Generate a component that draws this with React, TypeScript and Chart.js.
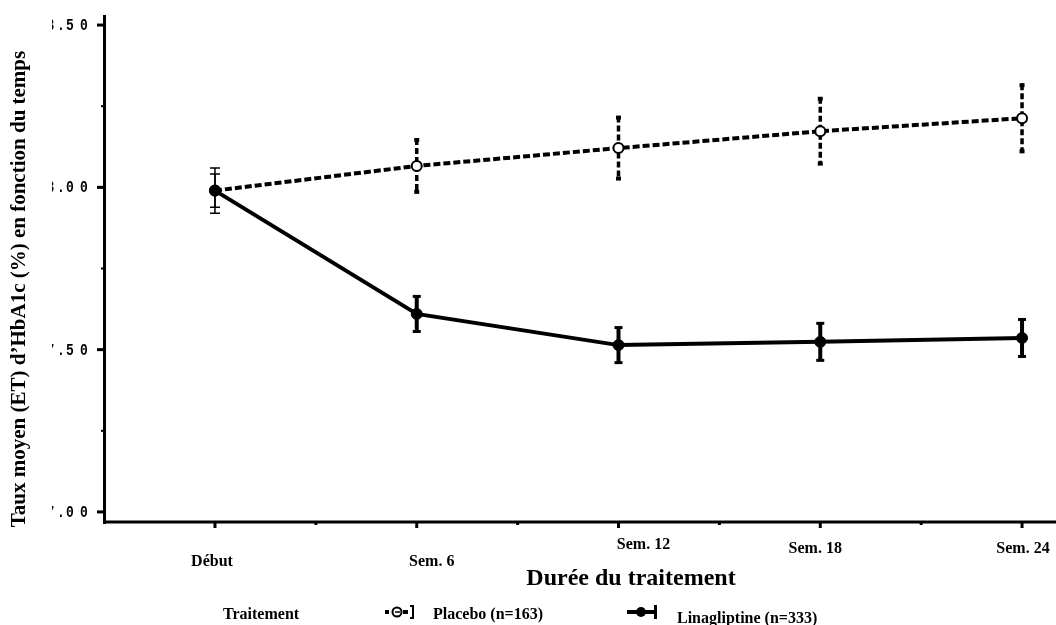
import React, { useEffect, useRef } from "react";
import { Chart, registerables } from "chart.js";

Chart.register(...registerables);

// ---- Data ----
const categories = ["Début", "Sem. 6", "Sem. 12", "Sem. 18", "Sem. 24"];
const weeks = [0, 6, 12, 18, 24];
const placeboMean = [7.99, 8.066, 8.121, 8.173, 8.213];
const placeboSE = [0.07, 0.083, 0.097, 0.103, 0.105];
const linaMean = [7.99, 7.61, 7.514, 7.524, 7.536];
const linaSE = [0.051, 0.054, 0.054, 0.057, 0.057];
const yTickValues = [7.0, 7.5, 8.0, 8.5];
const yTickLabels = ["7.00", "7.50", "8.00", "8.50"];
const yMinorTicks = [7.25, 7.75, 8.25];
const xMinorTicks = [3, 9, 15, 21];
const placeboLabel = "Placebo (n=163)";
const linaLabel = "Linagliptine (n=333)";
const legendTitle = "Traitement";
const xTitle = "Durée du traitement";
const yTitle = "Taux moyen (ET) d’HbA1c (%) en fonction du temps";

// ---- Layout (style only) ----
const X_LABEL_DX = [-3, 15, 25, -5, 1];
const X_LABEL_BASE = [566, 566, 549, 553, 553];
const SERIF = "'Liberation Serif', 'Times New Roman', serif";

const overlay = {
  id: "overlay",
  beforeDatasetsDraw(chart: any) {
    const ctx = chart.ctx as CanvasRenderingContext2D;
    const xs = chart.scales.x;
    const ys = chart.scales.y;
    ctx.save();
    ctx.fillStyle = "#000";
    ctx.strokeStyle = "#000";
    for (let i = 0; i < weeks.length; i++) {
      const px = xs.getPixelForValue(weeks[i]);
      // placebo
      {
        const top = ys.getPixelForValue(placeboMean[i] + placeboSE[i]);
        const bot = ys.getPixelForValue(placeboMean[i] - placeboSE[i]);
        if (i === 0) {
          ctx.setLineDash([]);
          ctx.lineWidth = 1.5;
          ctx.beginPath();
          ctx.moveTo(px, top);
          ctx.lineTo(px, bot);
          ctx.moveTo(px - 5, top);
          ctx.lineTo(px + 5, top);
          ctx.moveTo(px - 5, bot);
          ctx.lineTo(px + 5, bot);
          ctx.stroke();
        } else {
          ctx.setLineDash([6, 3]);
          ctx.lineWidth = 3.5;
          ctx.beginPath();
          ctx.moveTo(px, top);
          ctx.lineTo(px, bot);
          ctx.stroke();
          ctx.setLineDash([]);
          ctx.fillRect(px - 2.5, top - 1, 5, 4);
          ctx.fillRect(px - 2.5, bot - 3, 5, 4);
        }
      }
      // linagliptine
      {
        const top = ys.getPixelForValue(linaMean[i] + linaSE[i]);
        const bot = ys.getPixelForValue(linaMean[i] - linaSE[i]);
        ctx.setLineDash([]);
        if (i === 0) {
          ctx.lineWidth = 1.5;
          ctx.beginPath();
          ctx.moveTo(px, top);
          ctx.lineTo(px, bot);
          ctx.moveTo(px - 5, top);
          ctx.lineTo(px + 5, top);
          ctx.moveTo(px - 5, bot);
          ctx.lineTo(px + 5, bot);
          ctx.stroke();
        } else {
          ctx.lineWidth = 4;
          ctx.beginPath();
          ctx.moveTo(px, top);
          ctx.lineTo(px, bot);
          ctx.stroke();
          ctx.fillRect(px - 4, top - 1.5, 8, 3);
          ctx.fillRect(px - 4, bot - 1.5, 8, 3);
        }
      }
    }
    ctx.restore();
  },
  afterDraw(chart: any) {
    const ctx = chart.ctx as CanvasRenderingContext2D;
    const xs = chart.scales.x;
    const ys = chart.scales.y;
    const area = chart.chartArea;
    ctx.save();
    ctx.fillStyle = "#000";
    ctx.strokeStyle = "#000";
    ctx.setLineDash([]);
    // axes
    ctx.fillRect(area.left - 1, area.top, 3, area.bottom - area.top + 2);
    ctx.fillRect(area.left - 1, area.bottom - 1.5, 1056 - area.left + 1, 3);
    // y ticks
    yTickValues.forEach((v) => {
      const py = ys.getPixelForValue(v);
      ctx.fillRect(area.left - 7, py - 1.5, 6, 3);
    });
    yMinorTicks.forEach((v) => {
      const py = ys.getPixelForValue(v);
      ctx.fillRect(area.left - 3, py - 1, 2, 2);
    });
    // x ticks
    weeks.forEach((w) => {
      const px = xs.getPixelForValue(w);
      ctx.fillRect(px - 1.5, area.bottom + 1, 3, 5);
    });
    xMinorTicks.forEach((w) => {
      const px = xs.getPixelForValue(w);
      ctx.fillRect(px - 1.5, area.bottom + 1, 3, 2);
    });
    // y tick labels (clipped at left like the reference)
    ctx.save();
    ctx.beginPath();
    ctx.rect(52, 0, 60, 625);
    ctx.clip();
    ctx.font = "bold 13px 'Liberation Mono', 'DejaVu Sans Mono', monospace";
    ctx.textAlign = "center";
    ctx.textBaseline = "middle";
    const charX = [50.5, 61, 70, 84];
    yTickValues.forEach((v, k) => {
      const py = ys.getPixelForValue(v);
      const label = yTickLabels[k];
      for (let c = 0; c < label.length; c++) {
        ctx.save();
        ctx.translate(charX[c], py + 1);
        ctx.scale(1, 1.25);
        ctx.fillText(label[c], 0, 0);
        ctx.restore();
      }
    });
    ctx.restore();
    // x tick labels
    ctx.font = `bold 16px ${SERIF}`;
    ctx.textAlign = "center";
    ctx.textBaseline = "alphabetic";
    categories.forEach((c, i) => {
      const px = xs.getPixelForValue(weeks[i]);
      ctx.fillText(c, px + X_LABEL_DX[i], X_LABEL_BASE[i]);
    });
    // x title
    ctx.font = `bold 24px ${SERIF}`;
    ctx.fillText(xTitle, 631, 585);
    // y title
    ctx.save();
    ctx.translate(20, 289);
    ctx.rotate(-Math.PI / 2);
    ctx.font = `bold 21px ${SERIF}`;
    ctx.textAlign = "center";
    ctx.textBaseline = "middle";
    ctx.fillText(yTitle, 0, 0);
    ctx.restore();
    // legend
    ctx.font = `bold 16px ${SERIF}`;
    ctx.textAlign = "left";
    ctx.textBaseline = "alphabetic";
    ctx.fillText(legendTitle, 223, 619);
    ctx.fillText(placeboLabel, 433, 619);
    ctx.fillText(linaLabel, 677, 623);
    // placebo marker
    const ly = 612;
    ctx.fillRect(385, ly - 2, 4, 4);
    ctx.fillRect(403, ly - 2, 5, 4);
    ctx.beginPath();
    ctx.arc(397, ly, 4.5, 0, Math.PI * 2);
    ctx.fillStyle = "#fff";
    ctx.fill();
    ctx.lineWidth = 2;
    ctx.stroke();
    ctx.fillStyle = "#000";
    ctx.fillRect(395, ly - 0.75, 5, 1.5);
    ctx.fillRect(412, ly - 7, 2, 14);
    ctx.fillRect(410, ly - 7, 3, 2);
    ctx.fillRect(410, ly + 5, 3, 2);
    // lina marker
    ctx.fillRect(627, ly - 2, 28, 4);
    ctx.beginPath();
    ctx.arc(641, ly, 5, 0, Math.PI * 2);
    ctx.fill();
    ctx.fillRect(654, ly - 7, 3, 14);
    ctx.restore();
  },
};

export default function App() {
  const ref = useRef<HTMLCanvasElement | null>(null);
  useEffect(() => {
    if (!ref.current) return;
    const chart = new Chart(ref.current, {
      type: "line",
      data: {
        datasets: [
          {
            label: linaLabel,
            data: weeks.map((w, i) => ({ x: w, y: linaMean[i] })),
            borderColor: "#000",
            borderWidth: 4,
            pointRadius: 5.5,
            pointBackgroundColor: "#000",
            pointBorderColor: "#000",
            pointBorderWidth: 1,
            tension: 0,
            order: 0,
          },
          {
            label: placeboLabel,
            data: weeks.map((w, i) => ({ x: w, y: placeboMean[i] })),
            borderColor: "#000",
            borderWidth: 4,
            borderDash: [7, 3],
            pointRadius: 5,
            pointBackgroundColor: "#fff",
            pointBorderColor: "#000",
            pointBorderWidth: 2,
            tension: 0,
            order: 1,
          },
        ],
      },
      options: {
        responsive: false,
        animation: false,
        devicePixelRatio: 1,
        layout: { autoPadding: false, padding: { left: 104, right: 0, top: 15, bottom: 103 } },
        plugins: { legend: { display: false }, tooltip: { enabled: false } },
        scales: {
          x: { type: "linear", min: -3.3, max: 25.01, display: false },
          y: { type: "linear", min: 6.969, max: 8.531, display: false },
        },
      },
      plugins: [overlay],
    });
    return () => chart.destroy();
  }, []);
  return (
    <div style={{ position: "absolute", left: 0, top: 0, width: 1056, height: 625, background: "#fff" }}>
      <canvas ref={ref} width={1056} height={625} style={{ display: "block" }} />
    </div>
  );
}
